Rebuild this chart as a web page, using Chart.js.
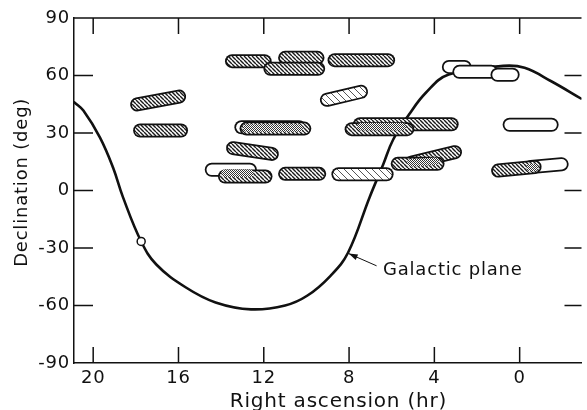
<!DOCTYPE html>
<html>
<head>
<meta charset="utf-8">
<title>Galactic plane</title>
<script src="https://cdn.jsdelivr.net/npm/chart.js"></script>
<style>
  html, body { margin: 0; padding: 0; background: #fff; }
  #wrap { width: 587px; height: 410px; }
</style>
</head>
<body>
<div id="wrap"><canvas id="raChart" width="587" height="410"></canvas></div>
<script>
// galactic plane (RA in hr, Dec in deg)
const planeRA  = [20.88, 20.46, 19.68, 19.07, 18.6, 17.75, 17.04, 15.65, 14.26, 12.6, 11.0, 9.95, 8.87, 8.05, 7.04, 6.4, 5.93, 5.19, 4.4, 3.33, 0.77, -0.23, -1.48, -2.87];
const planeDec = [46, 41.7, 27.6, 12, -3.6, -26.6, -38.6, -50.6, -58.4, -62, -60, -54.8, -44.5, -32.5, -3.6, 13.6, 26.6, 39.6, 51, 60.5, 65, 64, 57, 48];

// galactic centre marker
const centreRA  = [17.75];
const centreDec = [-26.6];

// scanned strips: start/end RA and Dec, fill kind (painted in this order)
const stripRA1  = [13.49, 11.0, 11.69, 8.68, 17.94, 17.80, 9.04, 13.05, 12.81, 13.44, 14.44, 13.82, 11.0, 8.5, 7.49, 7.88, 0.47, 5.06, 5.72, -0.53, 1.01, 3.32, 2.83, 1.04];
const stripRA2  = [11.96, 9.48, 9.45, 6.17, 15.97, 15.88, 7.44, 10.34, 10.1, 11.62, 12.65, 11.92, 9.4, 6.24, 3.19, 5.27, -1.5, 3.03, 3.85, -1.97, -0.7, 2.58, 1.33, 0.33];
const stripDec1 = [67.5, 69.2, 63.5, 68, 44.9, 31.3, 47.3, 33, 32.3, 22.1, 10.8, 7.3, 8.7, 8.5, 34.6, 32, 34.3, 14.6, 13.9, 12.3, 10.4, 64.5, 61.9, 60.4];
const stripDec2 = [67.5, 69.2, 63.5, 68, 49.0, 31.3, 51.5, 33, 32.3, 19.1, 10.8, 7.3, 8.7, 8.5, 34.6, 32, 34.3, 20, 13.9, 13.7, 12.3, 64.5, 61.9, 60.4];
const stripFill = ['hatch', 'hatch', 'hatch', 'hatch', 'hatch', 'hatch', 'light', 'white', 'hatch', 'hatch', 'white', 'hatch', 'hatch', 'light', 'hatch', 'hatch', 'white', 'hatch', 'hatch', 'white', 'hatch', 'white', 'white', 'white'];

// where two strips overlap the figure shows a denser stipple
const overlapRA1  = [12.81, 13.82, 7.45, 5.1, -0.5];
const overlapRA2  = [10.34, 12.65, 5.5, 3.95, -0.7];
const overlapDec1 = [32.6, 9.0, 33.3, 14.4, 12.0];
const overlapDec2 = [32.6, 9.0, 33.3, 15.2, 12.0];

const xTickValues = [20, 16, 12, 8, 4, 0];
const yTickValues = [-90, -60, -30, 0, 30, 60, 90];

// annotation (data coords)
const noteText = 'Galactic plane';
const noteAt = {x: 6.41, y: -41.7};
const arrowFrom = {x: 6.71, y: -39.3};
const arrowTo = {x: 8.02, y: -32.9};

function makePattern(size, draw) {
    const c = document.createElement('canvas');
    c.width = c.height = size;
    const g = c.getContext('2d');
    g.fillStyle = '#fff';
    g.fillRect(0, 0, size, size);
    draw(g, size);
    return g.createPattern(c, 'repeat');
}

function diagonal(color, width) {
    return function (g, s) {
        g.strokeStyle = color;
        g.lineWidth = width;
        g.beginPath();
        for (let k = -1; k <= 1; k++) {
            g.moveTo(k * s, 0);
            g.lineTo(k * s + s, s);
        }
        g.stroke();
    };
}

const fills = {
    hatch: makePattern(4, diagonal('#1a1a1a', 1.4)),
    light: makePattern(7, diagonal('#555', 1)),
    stipple: makePattern(2, function (g) {
        g.fillStyle = '#333';
        g.fillRect(0, 0, 1, 1);
        g.fillRect(1, 1, 1, 1);
    }),
    white: '#fff'
};

// painter's order: first pushed is drawn first (Chart.js draws higher `order` first)
const layers = [];

layers.push({
    data: planeRA.map((ra, i) => ({x: ra, y: planeDec[i]})),
    borderColor: '#111',
    borderWidth: 2.6,
    tension: 0.4
});

stripRA1.forEach((ra, i) => {
    const pts = [{x: ra, y: stripDec1[i]}, {x: stripRA2[i], y: stripDec2[i]}];
    layers.push({data: pts, borderColor: '#111', borderWidth: 14});
    layers.push({data: pts, borderColor: fills[stripFill[i]], borderWidth: 10.5});
});

overlapRA1.forEach((ra, i) => {
    layers.push({
        data: [{x: ra, y: overlapDec1[i]}, {x: overlapRA2[i], y: overlapDec2[i]}],
        borderColor: fills.stipple,
        borderWidth: 7.5
    });
});

layers.push({
    data: centreRA.map((ra, i) => ({x: ra, y: centreDec[i]})),
    showLine: false,
    pointRadius: 4,
    pointBackgroundColor: '#fff',
    pointBorderColor: '#111',
    pointBorderWidth: 1.5
});

const datasets = layers.map((d, i) => Object.assign({
    showLine: true,
    pointRadius: 0,
    borderCapStyle: 'round',
    tension: 0,
    order: layers.length - i
}, d));

// lettering in the figure is a little spaced out
const spacing = {
    id: 'spacing',
    beforeDraw(chart) { chart.ctx.letterSpacing = '0.8px'; }
};

// inward tick marks, top frame line and the labelled arrow
const frameAndNote = {
    id: 'frameAndNote',
    afterDatasetsDraw(chart) {
        const {ctx, chartArea: a, scales: {x, y}} = chart;
        ctx.save();
        ctx.strokeStyle = '#111';
        ctx.lineWidth = 1.5;
        ctx.beginPath();
        ctx.moveTo(a.left, a.top);
        ctx.lineTo(a.right, a.top);
        x.ticks.forEach(t => {
            const px = x.getPixelForValue(t.value);
            ctx.moveTo(px, a.bottom);
            ctx.lineTo(px, a.bottom - 16);
            ctx.moveTo(px, a.top);
            ctx.lineTo(px, a.top + 16);
        });
        y.ticks.forEach(t => {
            if (Math.abs(t.value) === 90) return;
            const py = y.getPixelForValue(t.value);
            ctx.moveTo(a.left, py);
            ctx.lineTo(a.left + 19, py);
            ctx.moveTo(a.right, py);
            ctx.lineTo(a.right - 17, py);
        });
        ctx.stroke();

        const x0 = x.getPixelForValue(arrowFrom.x), y0 = y.getPixelForValue(arrowFrom.y);
        const x1 = x.getPixelForValue(arrowTo.x), y1 = y.getPixelForValue(arrowTo.y);
        const ang = Math.atan2(y1 - y0, x1 - x0);
        ctx.lineWidth = 1;
        ctx.beginPath();
        ctx.moveTo(x0, y0);
        ctx.lineTo(x1, y1);
        ctx.stroke();
        ctx.fillStyle = '#111';
        ctx.beginPath();
        ctx.moveTo(x1, y1);
        ctx.lineTo(x1 - 9 * Math.cos(ang) + 3 * Math.sin(ang), y1 - 9 * Math.sin(ang) - 3 * Math.cos(ang));
        ctx.lineTo(x1 - 9 * Math.cos(ang) - 3 * Math.sin(ang), y1 - 9 * Math.sin(ang) + 3 * Math.cos(ang));
        ctx.closePath();
        ctx.fill();

        ctx.font = '18px "DejaVu Sans"';
        ctx.textAlign = 'left';
        ctx.textBaseline = 'middle';
        ctx.fillText(noteText, x.getPixelForValue(noteAt.x), y.getPixelForValue(noteAt.y));
        ctx.restore();
    }
};

Chart.defaults.font.family = '"DejaVu Sans"';
Chart.defaults.color = '#111';

new Chart(document.getElementById('raChart'), {
    type: 'scatter',
    data: {datasets: datasets},
    options: {
        responsive: false,
        animation: false,
        events: [],
        layout: {padding: {top: 18, right: 0, left: 0, bottom: 0}},
        plugins: {legend: {display: false}, tooltip: {enabled: false}},
        scales: {
            x: {
                type: 'linear',
                reverse: true,
                min: -2.9,
                max: 20.9,
                afterBuildTicks: s => { s.ticks = xTickValues.map(v => ({value: v})); },
                afterFit: s => { s.height = 47; },
                grid: {display: false, drawTicks: false, tickLength: 0},
                border: {display: true, color: '#111', width: 1.5},
                ticks: {font: {size: 18, lineHeight: 1}, padding: 6, callback: v => String(v)},
                title: {display: true, text: '   Right ascension (hr)', font: {size: 20, lineHeight: 1}, padding: {top: 0, bottom: -1.4}}
            },
            y: {
                type: 'linear',
                min: -90,
                max: 90,
                afterBuildTicks: s => { s.ticks = yTickValues.map(v => ({value: v})); },
                afterFit: s => { s.width = 74; },
                grid: {display: false, drawTicks: false, tickLength: 0},
                border: {display: true, color: '#111', width: 1.5},
                ticks: {font: {size: 18, lineHeight: 1}, padding: 4, callback: v => String(v)},
                title: {display: true, text: '\u2002 Declination (deg)', font: {size: 18, lineHeight: 1}, padding: {top: 13.7, bottom: 0}}
            }
        }
    },
    plugins: [spacing, frameAndNote]
});
</script>
</body>
</html>
